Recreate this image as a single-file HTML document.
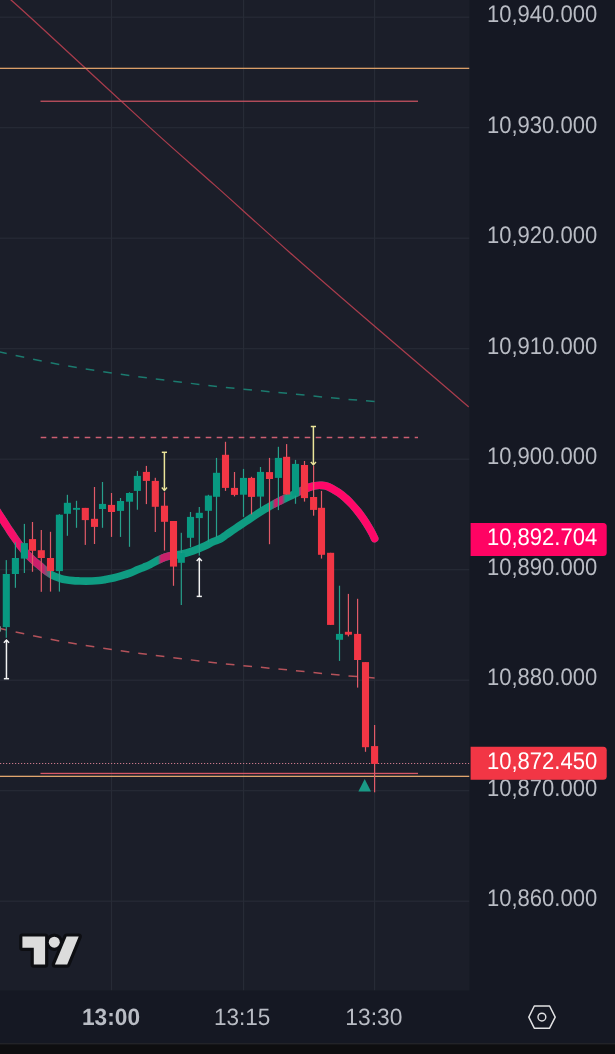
<!DOCTYPE html>
<html><head><meta charset="utf-8"><title>Chart</title>
<style>
html,body{margin:0;padding:0;background:#1b1e29;}
body{width:615px;height:1054px;overflow:hidden;position:relative;}
svg{position:absolute;left:0;top:0;display:block;}
text{font-family:"Liberation Sans", Arial, sans-serif;text-rendering:geometricPrecision;}
</style></head><body>
<svg width="615" height="1054" viewBox="0 0 615 1054">
<defs>
<clipPath id="cp"><rect x="0" y="0" width="469.5" height="990.5"/></clipPath>
<linearGradient id="maG" x1="0" y1="0" x2="380" y2="0" gradientUnits="userSpaceOnUse"><stop offset="0.0000" stop-color="#ff0a68" stop-opacity="1"/><stop offset="0.0368" stop-color="#f5106a" stop-opacity="1"/><stop offset="0.0684" stop-color="#d41b6a" stop-opacity="1"/><stop offset="0.1132" stop-color="#c8216b" stop-opacity="1"/><stop offset="0.1342" stop-color="#c8216b" stop-opacity="0"/><stop offset="0.4158" stop-color="#c8216b" stop-opacity="0"/><stop offset="0.4237" stop-color="#c8216b" stop-opacity="1"/><stop offset="0.4526" stop-color="#c8216b" stop-opacity="1"/><stop offset="0.4632" stop-color="#c8216b" stop-opacity="0"/><stop offset="0.7158" stop-color="#c8216b" stop-opacity="0"/><stop offset="0.7237" stop-color="#c8216b" stop-opacity="1"/><stop offset="0.7421" stop-color="#c8216b" stop-opacity="1"/><stop offset="0.7513" stop-color="#c8216b" stop-opacity="0"/><stop offset="0.7816" stop-color="#ff0868" stop-opacity="0"/><stop offset="0.7947" stop-color="#ff0868" stop-opacity="1"/><stop offset="1.0000" stop-color="#ff0868" stop-opacity="1"/></linearGradient>
</defs>
<rect x="0" y="0" width="615" height="1054" fill="#151823"/>
<rect x="0" y="0" width="469.5" height="990.5" fill="#1b1e29"/>
<rect x="0" y="1043.3" width="615" height="10.700000000000045" fill="#0e0e10"/>
<rect x="0" y="1043.3" width="615" height="1" fill="#2c2d31"/>
<g clip-path="url(#cp)">
<rect x="0" y="16.6" width="469.5" height="1.2" fill="#272b36"/>
<rect x="0" y="127.1" width="469.5" height="1.2" fill="#272b36"/>
<rect x="0" y="237.6" width="469.5" height="1.2" fill="#272b36"/>
<rect x="0" y="348.1" width="469.5" height="1.2" fill="#272b36"/>
<rect x="0" y="458.6" width="469.5" height="1.2" fill="#272b36"/>
<rect x="0" y="569.1" width="469.5" height="1.2" fill="#272b36"/>
<rect x="0" y="679.6" width="469.5" height="1.2" fill="#272b36"/>
<rect x="0" y="790.1" width="469.5" height="1.2" fill="#272b36"/>
<rect x="0" y="900.6" width="469.5" height="1.2" fill="#272b36"/>
<rect x="110.9" y="0" width="1.2" height="990.5" fill="#272b36"/>
<rect x="243.0" y="0" width="1.2" height="990.5" fill="#272b36"/>
<rect x="374.0" y="0" width="1.2" height="990.5" fill="#272b36"/>
<path d="M9.90,-1.00 C14.92,3.55 16.65,4.87 40.00,26.30 C63.35,47.73 120.83,101.08 150.00,127.60 C179.17,154.12 191.67,164.55 215.00,185.40 C238.33,206.25 264.17,229.88 290.00,252.70 C315.83,275.52 344.17,300.00 370.00,322.30 C395.83,344.60 428.55,372.38 445.00,386.50 C461.45,400.62 464.75,403.58 468.70,407.00" fill="none" stroke="#a83c4c" stroke-width="1.25"/>
<rect x="0" y="67.7" width="469.5" height="1.3" fill="#d99e68"/>
<rect x="0" y="775.7" width="469.5" height="1.3" fill="#e0a66e"/>
<rect x="40.5" y="100.6" width="377.5" height="1.3" fill="#c2505f"/>
<rect x="40.5" y="772.8" width="377.5" height="1.3" fill="#d85866"/>
<line x1="40.7" y1="437.5" x2="418" y2="437.5" stroke="#cc5e72" stroke-width="1.4" stroke-dasharray="5.6 5.4"/>
<line x1="0" y1="763.5" x2="469.5" y2="763.5" stroke="#c8788a" stroke-width="1.2" stroke-dasharray="1.2 1.8"/>
<path d="M-1.90,351.69L6.70,353.54M15.62,355.46L24.22,357.32M33.14,359.26L41.74,361.02M50.66,362.76L59.26,364.40M68.18,366.08L76.78,367.56M85.70,369.00L94.30,370.35M103.22,371.70L111.82,372.97M120.74,374.27L129.34,375.47M138.26,376.69L146.86,377.83M155.78,378.98L164.38,380.08M173.30,381.21L181.90,382.28M190.82,383.37L199.42,384.41M208.34,385.45L216.94,386.43M225.86,387.43L234.46,388.35M243.38,389.24L251.98,390.05M260.90,390.86L269.50,391.64M278.42,392.47L287.02,393.31M295.94,394.23L304.54,395.12M313.46,396.04L322.06,396.91M330.98,397.80L339.58,398.61M348.50,399.41L357.10,400.12M366.02,400.80L374.62,401.49" fill="none" stroke="#1b7a6e" stroke-width="1.5"/>
<path d="M-1.90,628.19L6.70,630.04M15.62,631.96L24.22,633.82M33.14,635.76L41.74,637.52M50.66,639.26L59.26,640.90M68.18,642.58L76.78,644.06M85.70,645.50L94.30,646.85M103.22,648.20L111.82,649.47M120.74,650.77L129.34,651.97M138.26,653.19L146.86,654.33M155.78,655.48L164.38,656.58M173.30,657.71L181.90,658.78M190.82,659.87L199.42,660.91M208.34,661.95L216.94,662.93M225.86,663.93L234.46,664.85M243.38,665.74L251.98,666.55M260.90,667.36L269.50,668.14M278.42,668.97L287.02,669.81M295.94,670.73L304.54,671.62M313.46,672.54L322.06,673.41M330.98,674.30L339.58,675.11M348.50,675.91L357.10,676.62M366.02,677.30L374.62,677.99" fill="none" stroke="#b4525a" stroke-width="1.5"/>
<path d="M-4.00,509.50 C-3.33,510.52 -1.50,513.30 0.00,515.60 C1.50,517.90 3.33,520.73 5.00,523.30 C6.67,525.87 8.33,528.48 10.00,531.00 C11.67,533.52 13.33,535.98 15.00,538.40 C16.67,540.82 18.00,542.90 20.00,545.50 C22.00,548.10 24.83,551.58 27.00,554.00 C29.17,556.42 30.92,558.08 33.00,560.00 C35.08,561.92 37.33,563.67 39.50,565.50 C41.67,567.33 43.75,569.32 46.00,571.00 C48.25,572.68 50.67,574.38 53.00,575.60 C55.33,576.82 57.83,577.60 60.00,578.30 C62.17,579.00 63.83,579.40 66.00,579.80 C68.17,580.20 70.67,580.50 73.00,580.70 C75.33,580.90 77.83,580.93 80.00,581.00 C82.17,581.07 84.00,581.10 86.00,581.10 C88.00,581.10 89.83,581.10 92.00,581.00 C94.17,580.90 96.83,580.73 99.00,580.50 C101.17,580.27 102.83,579.97 105.00,579.60 C107.17,579.23 109.75,578.80 112.00,578.30 C114.25,577.80 116.33,577.20 118.50,576.60 C120.67,576.00 122.83,575.38 125.00,574.70 C127.17,574.02 129.33,573.37 131.50,572.50 C133.67,571.63 135.92,570.38 138.00,569.50 C140.08,568.62 142.00,568.02 144.00,567.20 C146.00,566.38 147.33,565.93 150.00,564.60 C152.67,563.27 156.67,560.67 160.00,559.20 C163.33,557.73 166.50,556.62 170.00,555.80 C173.50,554.98 177.17,555.13 181.00,554.30 C184.83,553.47 188.93,552.23 193.00,550.80 C197.07,549.37 202.07,547.20 205.40,545.70 C208.73,544.20 210.57,542.92 213.00,541.80 C215.43,540.68 217.75,540.20 220.00,539.00 C222.25,537.80 224.33,536.08 226.50,534.60 C228.67,533.12 230.83,531.57 233.00,530.10 C235.17,528.63 237.33,527.25 239.50,525.80 C241.67,524.35 243.83,522.87 246.00,521.40 C248.17,519.93 250.33,518.43 252.50,517.00 C254.67,515.57 256.83,514.17 259.00,512.80 C261.17,511.43 263.33,510.10 265.50,508.80 C267.67,507.50 269.83,506.20 272.00,505.00 C274.17,503.80 276.33,502.68 278.50,501.60 C280.67,500.52 282.75,499.57 285.00,498.50 C287.25,497.43 289.83,496.23 292.00,495.20 C294.17,494.17 296.00,493.27 298.00,492.30 C300.00,491.33 302.00,490.28 304.00,489.40 C306.00,488.52 308.17,487.62 310.00,487.00 C311.83,486.38 313.17,485.98 315.00,485.70 C316.83,485.42 318.83,485.15 321.00,485.30 C323.17,485.45 325.08,485.40 328.00,486.60 C330.92,487.80 335.50,490.52 338.50,492.50 C341.50,494.48 343.75,496.50 346.00,498.50 C348.25,500.50 350.00,502.33 352.00,504.50 C354.00,506.67 356.17,509.20 358.00,511.50 C359.83,513.80 361.33,515.88 363.00,518.30 C364.67,520.72 366.50,523.55 368.00,526.00 C369.50,528.45 370.90,530.92 372.00,533.00 C373.10,535.08 374.17,537.58 374.60,538.50" fill="none" stroke="#0f9c82" stroke-width="7.7" stroke-linecap="round" stroke-linejoin="round"/>
<path d="M-4.00,509.50 C-3.33,510.52 -1.50,513.30 0.00,515.60 C1.50,517.90 3.33,520.73 5.00,523.30 C6.67,525.87 8.33,528.48 10.00,531.00 C11.67,533.52 13.33,535.98 15.00,538.40 C16.67,540.82 18.00,542.90 20.00,545.50 C22.00,548.10 24.83,551.58 27.00,554.00 C29.17,556.42 30.92,558.08 33.00,560.00 C35.08,561.92 37.33,563.67 39.50,565.50 C41.67,567.33 43.75,569.32 46.00,571.00 C48.25,572.68 50.67,574.38 53.00,575.60 C55.33,576.82 57.83,577.60 60.00,578.30 C62.17,579.00 63.83,579.40 66.00,579.80 C68.17,580.20 70.67,580.50 73.00,580.70 C75.33,580.90 77.83,580.93 80.00,581.00 C82.17,581.07 84.00,581.10 86.00,581.10 C88.00,581.10 89.83,581.10 92.00,581.00 C94.17,580.90 96.83,580.73 99.00,580.50 C101.17,580.27 102.83,579.97 105.00,579.60 C107.17,579.23 109.75,578.80 112.00,578.30 C114.25,577.80 116.33,577.20 118.50,576.60 C120.67,576.00 122.83,575.38 125.00,574.70 C127.17,574.02 129.33,573.37 131.50,572.50 C133.67,571.63 135.92,570.38 138.00,569.50 C140.08,568.62 142.00,568.02 144.00,567.20 C146.00,566.38 147.33,565.93 150.00,564.60 C152.67,563.27 156.67,560.67 160.00,559.20 C163.33,557.73 166.50,556.62 170.00,555.80 C173.50,554.98 177.17,555.13 181.00,554.30 C184.83,553.47 188.93,552.23 193.00,550.80 C197.07,549.37 202.07,547.20 205.40,545.70 C208.73,544.20 210.57,542.92 213.00,541.80 C215.43,540.68 217.75,540.20 220.00,539.00 C222.25,537.80 224.33,536.08 226.50,534.60 C228.67,533.12 230.83,531.57 233.00,530.10 C235.17,528.63 237.33,527.25 239.50,525.80 C241.67,524.35 243.83,522.87 246.00,521.40 C248.17,519.93 250.33,518.43 252.50,517.00 C254.67,515.57 256.83,514.17 259.00,512.80 C261.17,511.43 263.33,510.10 265.50,508.80 C267.67,507.50 269.83,506.20 272.00,505.00 C274.17,503.80 276.33,502.68 278.50,501.60 C280.67,500.52 282.75,499.57 285.00,498.50 C287.25,497.43 289.83,496.23 292.00,495.20 C294.17,494.17 296.00,493.27 298.00,492.30 C300.00,491.33 302.00,490.28 304.00,489.40 C306.00,488.52 308.17,487.62 310.00,487.00 C311.83,486.38 313.17,485.98 315.00,485.70 C316.83,485.42 318.83,485.15 321.00,485.30 C323.17,485.45 325.08,485.40 328.00,486.60 C330.92,487.80 335.50,490.52 338.50,492.50 C341.50,494.48 343.75,496.50 346.00,498.50 C348.25,500.50 350.00,502.33 352.00,504.50 C354.00,506.67 356.17,509.20 358.00,511.50 C359.83,513.80 361.33,515.88 363.00,518.30 C364.67,520.72 366.50,523.55 368.00,526.00 C369.50,528.45 370.90,530.92 372.00,533.00 C373.10,535.08 374.17,537.58 374.60,538.50" fill="none" stroke="url(#maG)" stroke-width="7.7" stroke-linecap="round" stroke-linejoin="round"/>
<rect x="5.70" y="560.1" width="1.2" height="77.7" fill="#27a08b"/>
<rect x="2.75" y="574.0" width="7.1" height="53.1" fill="#089981"/>
<rect x="14.80" y="542.4" width="1.2" height="45.4" fill="#27a08b"/>
<rect x="11.85" y="558.0" width="7.1" height="16.0" fill="#089981"/>
<rect x="23.80" y="523.9" width="1.2" height="49.1" fill="#27a08b"/>
<rect x="20.85" y="543.1" width="7.1" height="15.5" fill="#089981"/>
<rect x="31.90" y="522.0" width="1.2" height="49.8" fill="#e25a68"/>
<rect x="28.95" y="539.1" width="7.1" height="11.7" fill="#f23645"/>
<rect x="40.70" y="530.0" width="1.2" height="61.8" fill="#e25a68"/>
<rect x="37.75" y="550.2" width="7.1" height="7.8" fill="#f23645"/>
<rect x="49.90" y="531.8" width="1.2" height="59.8" fill="#e25a68"/>
<rect x="46.95" y="558.0" width="7.1" height="13.1" fill="#f23645"/>
<rect x="58.80" y="514.2" width="1.2" height="77.4" fill="#27a08b"/>
<rect x="55.85" y="514.7" width="7.1" height="56.4" fill="#089981"/>
<rect x="66.80" y="494.8" width="1.2" height="41.0" fill="#27a08b"/>
<rect x="63.85" y="502.8" width="7.1" height="11.0" fill="#089981"/>
<rect x="75.90" y="500.8" width="1.2" height="27.0" fill="#27a08b"/>
<rect x="72.95" y="507.9" width="7.1" height="1.9" fill="#089981"/>
<rect x="84.70" y="507.9" width="1.2" height="37.0" fill="#e25a68"/>
<rect x="81.75" y="507.9" width="7.1" height="12.2" fill="#f23645"/>
<rect x="93.90" y="487.0" width="1.2" height="57.0" fill="#e25a68"/>
<rect x="90.95" y="518.8" width="7.1" height="8.1" fill="#f23645"/>
<rect x="101.90" y="482.0" width="1.2" height="45.8" fill="#27a08b"/>
<rect x="98.95" y="503.9" width="7.1" height="5.1" fill="#089981"/>
<rect x="110.90" y="493.0" width="1.2" height="43.9" fill="#e25a68"/>
<rect x="107.95" y="504.9" width="7.1" height="7.1" fill="#f23645"/>
<rect x="119.90" y="498.0" width="1.2" height="38.9" fill="#27a08b"/>
<rect x="116.95" y="501.0" width="7.1" height="9.9" fill="#089981"/>
<rect x="128.90" y="492.3" width="1.2" height="54.5" fill="#27a08b"/>
<rect x="125.95" y="493.0" width="7.1" height="8.7" fill="#089981"/>
<rect x="136.80" y="470.9" width="1.2" height="38.8" fill="#27a08b"/>
<rect x="133.85" y="475.9" width="7.1" height="15.0" fill="#089981"/>
<rect x="145.80" y="465.9" width="1.2" height="38.2" fill="#e25a68"/>
<rect x="142.85" y="471.9" width="7.1" height="9.0" fill="#f23645"/>
<rect x="154.70" y="477.8" width="1.2" height="54.2" fill="#e25a68"/>
<rect x="151.75" y="480.9" width="7.1" height="25.9" fill="#f23645"/>
<rect x="163.90" y="492.2" width="1.2" height="58.4" fill="#e25a68"/>
<rect x="160.95" y="505.7" width="7.1" height="16.1" fill="#f23645"/>
<rect x="172.90" y="521.0" width="1.2" height="64.8" fill="#e25a68"/>
<rect x="169.95" y="521.0" width="7.1" height="45.6" fill="#f23645"/>
<rect x="180.70" y="532.8" width="1.2" height="72.2" fill="#27a08b"/>
<rect x="177.75" y="553.0" width="7.1" height="9.8" fill="#089981"/>
<rect x="189.90" y="512.0" width="1.2" height="35.3" fill="#27a08b"/>
<rect x="186.95" y="516.9" width="7.1" height="20.9" fill="#089981"/>
<rect x="198.70" y="507.0" width="1.2" height="48.6" fill="#27a08b"/>
<rect x="195.75" y="512.8" width="7.1" height="5.3" fill="#089981"/>
<rect x="207.80" y="494.8" width="1.2" height="47.1" fill="#27a08b"/>
<rect x="204.85" y="495.6" width="7.1" height="15.2" fill="#089981"/>
<rect x="215.90" y="457.9" width="1.2" height="79.5" fill="#27a08b"/>
<rect x="212.95" y="472.8" width="7.1" height="24.0" fill="#089981"/>
<rect x="224.90" y="441.8" width="1.2" height="49.1" fill="#e25a68"/>
<rect x="221.95" y="454.8" width="7.1" height="33.1" fill="#f23645"/>
<rect x="233.90" y="472.0" width="1.2" height="24.4" fill="#e25a68"/>
<rect x="230.95" y="487.9" width="7.1" height="7.0" fill="#f23645"/>
<rect x="242.90" y="468.9" width="1.2" height="48.0" fill="#27a08b"/>
<rect x="239.95" y="477.9" width="7.1" height="16.8" fill="#089981"/>
<rect x="250.90" y="476.8" width="1.2" height="37.6" fill="#e25a68"/>
<rect x="247.95" y="477.9" width="7.1" height="19.0" fill="#f23645"/>
<rect x="259.90" y="467.0" width="1.2" height="41.0" fill="#27a08b"/>
<rect x="256.95" y="471.9" width="7.1" height="24.7" fill="#089981"/>
<rect x="268.90" y="457.9" width="1.2" height="86.3" fill="#e25a68"/>
<rect x="265.95" y="472.1" width="7.1" height="6.9" fill="#f23645"/>
<rect x="277.80" y="446.8" width="1.2" height="63.3" fill="#27a08b"/>
<rect x="274.85" y="457.9" width="7.1" height="20.0" fill="#089981"/>
<rect x="286.00" y="444.1" width="1.2" height="50.4" fill="#e25a68"/>
<rect x="283.05" y="456.8" width="7.1" height="37.7" fill="#f23645"/>
<rect x="294.90" y="459.9" width="1.2" height="43.9" fill="#27a08b"/>
<rect x="291.95" y="463.9" width="7.1" height="31.7" fill="#089981"/>
<rect x="303.90" y="461.0" width="1.2" height="40.6" fill="#e25a68"/>
<rect x="300.95" y="465.0" width="7.1" height="33.1" fill="#f23645"/>
<rect x="313.00" y="465.6" width="1.2" height="50.1" fill="#e25a68"/>
<rect x="310.05" y="497.0" width="7.1" height="12.9" fill="#f23645"/>
<rect x="320.90" y="490.9" width="1.2" height="67.7" fill="#e25a68"/>
<rect x="317.95" y="507.8" width="7.1" height="47.0" fill="#f23645"/>
<rect x="330.00" y="552.8" width="1.2" height="72.1" fill="#e25a68"/>
<rect x="327.05" y="552.8" width="7.1" height="72.1" fill="#f23645"/>
<rect x="338.90" y="585.7" width="1.2" height="75.2" fill="#27a08b"/>
<rect x="335.95" y="633.9" width="7.1" height="5.9" fill="#089981"/>
<rect x="347.80" y="593.9" width="1.2" height="42.5" fill="#e25a68"/>
<rect x="344.85" y="631.8" width="7.1" height="2.9" fill="#f23645"/>
<rect x="357.00" y="598.8" width="1.2" height="88.8" fill="#e25a68"/>
<rect x="354.05" y="633.9" width="7.1" height="26.1" fill="#f23645"/>
<rect x="364.90" y="662.1" width="1.2" height="89.7" fill="#e25a68"/>
<rect x="361.95" y="662.1" width="7.1" height="85.1" fill="#f23645"/>
<rect x="374.00" y="725.0" width="1.2" height="67.3" fill="#e25a68"/>
<rect x="371.05" y="746.1" width="7.1" height="17.8" fill="#f23645"/>
<rect x="-3" y="626.3" width="4" height="5.3" fill="#6f8a7f"/>
<line x1="164.4" y1="452.3" x2="164.4" y2="490.4" stroke="#ece59a" stroke-width="1.5"/><line x1="161.8" y1="452.3" x2="167.0" y2="452.3" stroke="#ece59a" stroke-width="1.5"/><polyline points="161.8,487.59999999999997 164.4,490.4 167.0,487.59999999999997" fill="none" stroke="#ece59a" stroke-width="1.4"/>
<line x1="313.4" y1="426.4" x2="313.4" y2="464.8" stroke="#ece59a" stroke-width="1.5"/><line x1="310.79999999999995" y1="426.4" x2="316.0" y2="426.4" stroke="#ece59a" stroke-width="1.5"/><polyline points="310.79999999999995,462.0 313.4,464.8 316.0,462.0" fill="none" stroke="#ece59a" stroke-width="1.4"/>
<line x1="199.3" y1="558.3" x2="199.3" y2="596.4" stroke="#f2f2f2" stroke-width="1.5"/><line x1="196.70000000000002" y1="596.4" x2="201.9" y2="596.4" stroke="#f2f2f2" stroke-width="1.5"/><polyline points="196.70000000000002,561.0999999999999 199.3,558.3 201.9,561.0999999999999" fill="none" stroke="#f2f2f2" stroke-width="1.4"/>
<line x1="6.45" y1="640.0" x2="6.45" y2="678.7" stroke="#f2f2f2" stroke-width="1.5"/><line x1="3.85" y1="678.7" x2="9.05" y2="678.7" stroke="#f2f2f2" stroke-width="1.5"/><polyline points="3.85,642.8 6.45,640.0 9.05,642.8" fill="none" stroke="#f2f2f2" stroke-width="1.4"/>
<polygon points="364.7,779 371,791.5 358.4,791.5" fill="#1a9a86"/>
<g stroke="#0d0e12" stroke-width="6.4" stroke-linejoin="round" fill="#0d0e12"><path d="M22.4,936.6 H45.1 V964.6 H33.8 V947.7 H22.4 Z"/><circle cx="54.3" cy="942.2" r="5.5"/><path d="M66.6,936.6 H78.7 L67.2,964.6 H54.9 Z"/></g>
<g fill="#dcdcdc"><path d="M22.4,936.6 H45.1 V964.6 H33.8 V947.7 H22.4 Z"/><circle cx="54.3" cy="942.2" r="5.5"/><path d="M66.6,936.6 H78.7 L67.2,964.6 H54.9 Z"/></g>
</g>
<text x="487.0" y="22.20" font-size="24.1" textLength="110.2" lengthAdjust="spacingAndGlyphs" fill="#b9bcc4">10,940.000</text>
<text x="487.0" y="132.70" font-size="24.1" textLength="110.2" lengthAdjust="spacingAndGlyphs" fill="#b9bcc4">10,930.000</text>
<text x="487.0" y="243.20" font-size="24.1" textLength="110.2" lengthAdjust="spacingAndGlyphs" fill="#b9bcc4">10,920.000</text>
<text x="487.0" y="353.70" font-size="24.1" textLength="110.2" lengthAdjust="spacingAndGlyphs" fill="#b9bcc4">10,910.000</text>
<text x="487.0" y="464.20" font-size="24.1" textLength="110.2" lengthAdjust="spacingAndGlyphs" fill="#b9bcc4">10,900.000</text>
<text x="487.0" y="574.70" font-size="24.1" textLength="110.2" lengthAdjust="spacingAndGlyphs" fill="#b9bcc4">10,890.000</text>
<text x="487.0" y="685.20" font-size="24.1" textLength="110.2" lengthAdjust="spacingAndGlyphs" fill="#b9bcc4">10,880.000</text>
<text x="487.0" y="795.70" font-size="24.1" textLength="110.2" lengthAdjust="spacingAndGlyphs" fill="#b9bcc4">10,870.000</text>
<text x="487.0" y="906.20" font-size="24.1" textLength="110.2" lengthAdjust="spacingAndGlyphs" fill="#b9bcc4">10,860.000</text>
<path d="M470.6,523.0 H603.2 Q606.7,523.0 606.7,526.5 V552.5 Q606.7,556.0 603.2,556.0 H470.6 Z" fill="#ff0363"/><text x="487.0" y="545.10" font-size="24.1" textLength="110.2" lengthAdjust="spacingAndGlyphs" fill="#ffffff">10,892.704</text>
<path d="M470.6,746.8 H603.2 Q606.7,746.8 606.7,750.3 V776.2 Q606.7,779.7 603.2,779.7 H470.6 Z" fill="#f23645"/><text x="487.0" y="768.85" font-size="24.1" textLength="110.2" lengthAdjust="spacingAndGlyphs" fill="#ffffff">10,872.450</text>
<text x="82.0" y="1025.0" font-size="23.6" textLength="58.0" lengthAdjust="spacingAndGlyphs" font-weight="bold" fill="#b9bcc4">13:00</text>
<text x="213.9" y="1025.0" font-size="23.6" textLength="56.4" lengthAdjust="spacingAndGlyphs" fill="#b9bcc4">13:15</text>
<text x="345.3" y="1025.0" font-size="23.6" textLength="57.0" lengthAdjust="spacingAndGlyphs" fill="#b9bcc4">13:30</text>
<polygon points="528.8,1017.1 534.3,1006.0 549.6,1006.0 555.2,1017.1 549.6,1028.2 534.3,1028.2" fill="none" stroke="#e2e2e4" stroke-width="1.5" stroke-linejoin="round"/>
<circle cx="541.9" cy="1017.1" r="3.9" fill="none" stroke="#e2e2e4" stroke-width="1.4"/>
</svg>
</body></html>
